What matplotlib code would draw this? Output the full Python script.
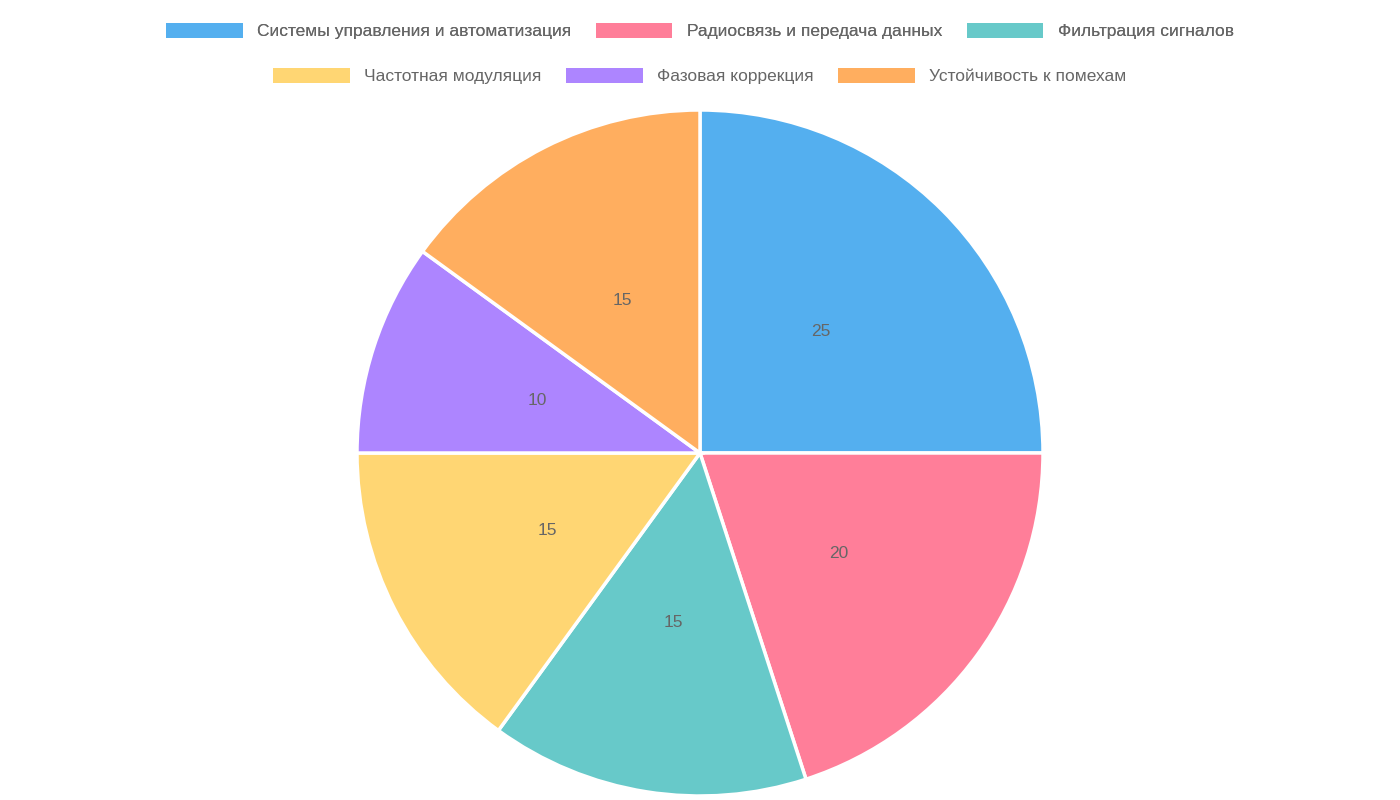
import matplotlib.pyplot as plt
from matplotlib.patches import Patch

labels = ["Системы управления и автоматизация", "Радиосвязь и передача данных",
          "Фильтрация сигналов", "Частотная модуляция", "Фазовая коррекция",
          "Устойчивость к помехам"]
values = [25, 20, 15, 15, 10, 15]
colors = ["#54AFEF", "#FF7E99", "#67C9C9", "#FFD673", "#AD85FF", "#FFAE5F"]

plt.rcParams['font.family'] = ['Liberation Sans', 'DejaVu Sans']

fig = plt.figure(figsize=(14, 8), dpi=100)
ax = fig.add_axes([(700 - 343) / 1400, (800 - 453 - 343) / 800, 686 / 1400, 686 / 800])
wedges, texts = ax.pie(values, colors=colors, startangle=90, counterclock=False,
                       radius=1, labels=[str(v) for v in values], labeldistance=0.5,
                       wedgeprops=dict(edgecolor="white", linewidth=2.5),
                       textprops=dict(color="#666666", fontsize=12.5, ha="center", va="center"))
ax.set_xlim(-1, 1)
ax.set_ylim(-1, 1)
ax.set_aspect("equal")
ax.axis("off")

handles = [Patch(facecolor=c, edgecolor="none") for c in colors]
common = dict(loc="center", frameon=False, ncol=3, fontsize=12.5, labelcolor="#666666",
              handlelength=4.4, handleheight=0.95, handletextpad=0.85, columnspacing=1.4)
leg1 = fig.legend(handles[:3], labels[:3], bbox_to_anchor=(0.5, 1 - 31 / 800), **common)
fig.add_artist(leg1)
fig.legend(handles[3:], labels[3:], bbox_to_anchor=(0.5, 1 - 76 / 800), **common)

plt.savefig("out.png")
